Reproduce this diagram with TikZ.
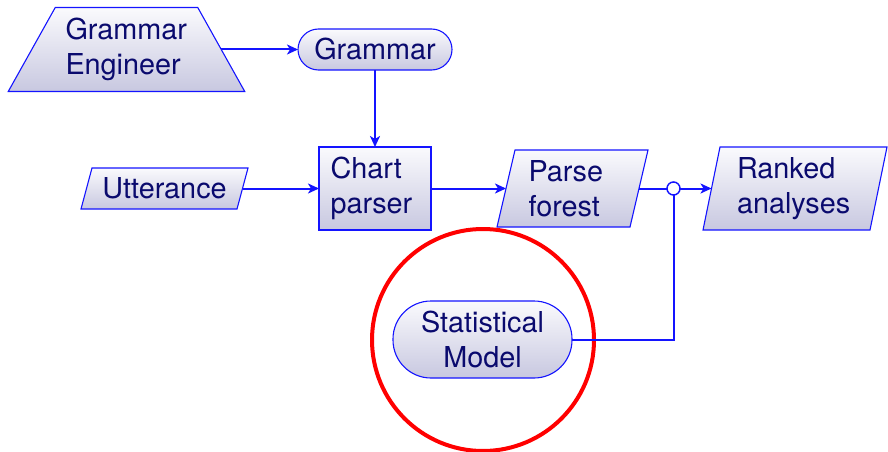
\documentclass[tikz,border=0pt]{standalone}
\usepackage{fontspec}
\setmainfont{TeX Gyre Heros}
\usetikzlibrary{arrows.meta,backgrounds}
\definecolor{lnblue}{RGB}{20,20,255}
\definecolor{txtnavy}{RGB}{10,10,110}
\definecolor{fillTop}{RGB}{250,250,253}
\definecolor{fillBot}{RGB}{200,200,224}
\begin{document}
\begin{tikzpicture}[x=1pt,y=-1pt,
  font=\fontsize{28.8}{35}\selectfont,
  lbl/.style={text=txtnavy, inner sep=0pt, outer sep=0pt},
  boxshade/.style={draw=lnblue, line width=1.1pt, top color=fillTop, bottom color=fillBot},
  conn/.style={draw=lnblue, line width=2pt},
  arr/.style={conn, -{Stealth[length=11pt,width=10pt,inset=3pt]}},
]
\useasboundingbox (0,0) rectangle (888,452);

% Grammar Engineer (trapezoid)
\node[lbl, minimum width=189.5pt, minimum height=84pt, text width=122pt, align=left] (ge) at (126.5,49.5) {Grammar\\Engineer};
% Grammar
\node[lbl, boxshade, rounded corners=20.5pt, minimum width=154pt, minimum height=41pt] (gr) at (375,49.5) {Grammar};
% Utterance
\node[lbl, minimum width=156pt, minimum height=41pt] (ut) at (164.5,188.5) {Utterance};
% Chart parser
\node[lbl, boxshade, minimum width=112pt, minimum height=83pt, text width=89pt, align=left] (cp) at (375,188.5) {Chart\\parser};
% Parse forest
\node[lbl, minimum width=133pt, minimum height=77pt, text width=88pt, align=left] (pf) at (572.5,188.5) {Parse\\forest};
% Ranked analyses
\node[lbl, minimum width=167pt, minimum height=83pt, text width=116pt, align=left] (ra) at (795,188.5) {Ranked\\analyses};
% Statistical Model
\node[lbl, boxshade, rounded corners=38pt, minimum width=179pt, minimum height=77pt, align=center] (sm) at (482.5,339.5) {Statistical\\Model};
% junction
\node[circle, draw=lnblue, fill=white, line width=1.5pt, minimum size=13pt, inner sep=0pt, outer sep=0pt] (jn) at (673.5,188.5) {};
% red ring
\node[circle, draw=red, line width=4pt, minimum size=222pt, inner sep=0pt] (ring) at (483,340) {};

\begin{scope}[on background layer]
  \path[boxshade] ([xshift=23.5pt]ge.north west) -- ([xshift=-23.5pt]ge.north east)
    -- ([xshift=23.5pt]ge.south east) -- ([xshift=-23.5pt]ge.south west) -- cycle;
  \path[boxshade] ([xshift=5.5pt]ut.north west) -- ([xshift=5.5pt]ut.north east)
    -- ([xshift=-5.5pt]ut.south east) -- ([xshift=-5.5pt]ut.south west) -- cycle;
  \path[boxshade] ([xshift=9pt]pf.north west) -- ([xshift=9pt]pf.north east)
    -- ([xshift=-9pt]pf.south east) -- ([xshift=-9pt]pf.south west) -- cycle;
  \path[boxshade] ([xshift=8.5pt]ra.north west) -- ([xshift=8.5pt]ra.north east)
    -- ([xshift=-8.5pt]ra.south east) -- ([xshift=-8.5pt]ra.south west) -- cycle;
\end{scope}

\draw[arr] (ge.east) -- (gr.west);
\draw[arr] (gr.south) -- (cp.north);
\draw[arr] (ut.east) -- (cp.west);
\draw[arr] (cp.east) -- (pf.west);
\draw[conn] (pf.east) -- (jn.west);
\draw[arr] (jn.east) -- (ra.west);
\draw[conn] (sm.east) -| (jn.south);
\end{tikzpicture}
\end{document}
